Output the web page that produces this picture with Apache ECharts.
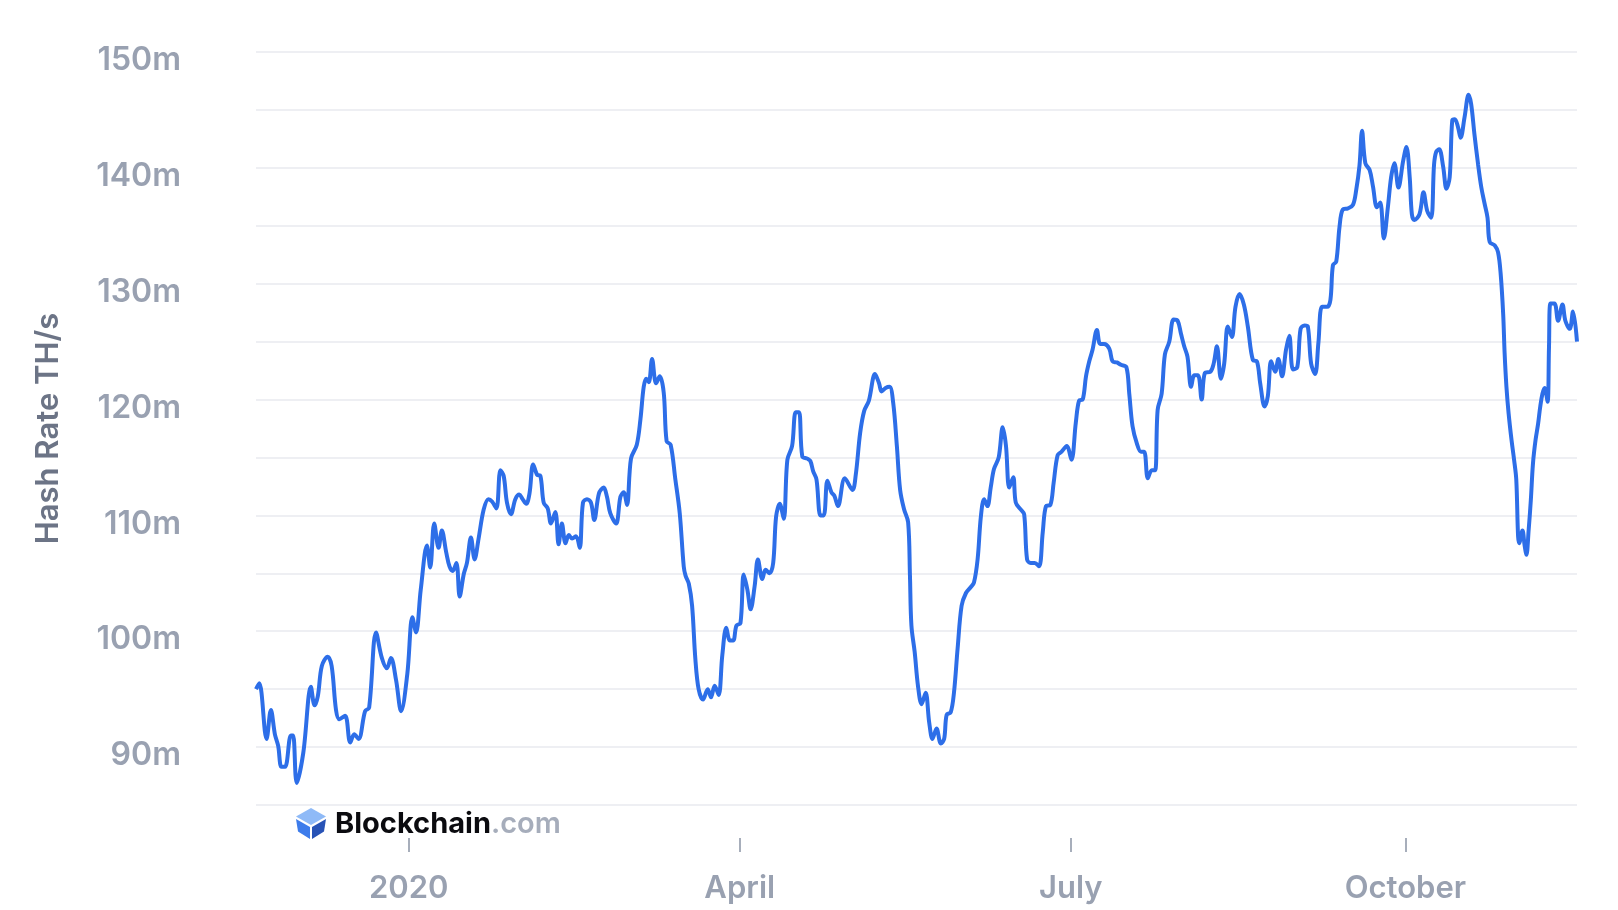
<!DOCTYPE html>
<html><head><meta charset="utf-8">
<script src="https://cdn.jsdelivr.net/npm/echarts@6/dist/echarts.min.js"></script>
<style>html,body{margin:0;padding:0;background:#fff}#c{width:1618px;height:910px}</style>
</head><body><div id="c"></div>
<script>
// days since 2020-01-01
const dayOffsets = [
-42.0,-41.1,-39.1,-37.9,-36.8,-35.9,-35.0,-34.0,-32.4,-31.8,-30.8,-29.0,-26.9,-25.9,-25.0,-23.9,-22.3,-21.2,-20.0,-19.1,
-17.5,-16.1,-15.0,-13.8,-12.0,-10.9,-9.0,-7.4,-6.0,-4.9,-3.5,-2.1,-0.4,1.0,2.0,3.3,5.0,5.9,7.0,8.2,
9.1,10.3,11.2,12.1,13.1,14.0,15.1,16.0,17.1,18.1,19.2,20.6,21.9,22.9,24.1,25.2,26.1,27.0,28.1,29.3,
30.4,31.3,32.3,33.2,34.2,35.3,36.2,37.1,38.2,39.1,40.3,41.2,42.1,43.1,44.0,44.9,46.0,47.0,47.9,49.0,
50.1,51.0,52.3,53.6,54.5,55.4,57.0,58.2,59.1,60.0,61.1,62.7,63.7,64.6,65.3,66.0,66.9,68.0,69.0,70.1,
70.9,72.0,73.3,74.5,75.6,76.1,77.0,77.9,78.8,79.7,80.9,82.2,83.1,84.1,85.2,86.2,87.3,88.3,89.2,90.1,
91.2,92.1,93.1,94.0,95.1,96.0,97.2,98.1,99.2,100.2,101.0,102.0,103.1,104.1,105.4,106.4,107.3,108.2,109.6,110.4,
111.2,112.1,113.2,114.1,115.1,116.2,117.0,118.0,119.9,122.0,122.9,124.1,125.2,126.5,128.2,129.3,130.0,131.1,132.2,133.2,
134.2,135.1,136.2,137.3,137.8,138.2,139.1,140.0,141.0,142.1,143.1,144.0,145.1,146.3,147.2,147.9,149.0,149.9,150.9,152.0,
153.2,154.5,155.4,156.4,157.3,158.2,159.1,160.0,160.9,162.2,163.3,164.2,165.1,166.2,166.9,168.3,169.2,170.0,171.0,172.1,
173.3,174.3,175.2,176.4,177.3,178.4,179.5,180.9,182.2,183.4,184.3,185.3,186.2,187.1,188.0,189.2,190.1,191.2,192.6,193.5,
194.7,195.8,197.3,198.1,199.0,200.2,201.3,202.2,203.2,204.3,205.2,205.9,207.0,207.9,209.1,210.3,211.4,212.3,213.2,214.1,
215.1,216.0,217.0,218.0,218.9,220.4,221.3,222.2,223.3,224.2,225.2,226.3,227.3,228.4,229.6,230.7,232.1,233.2,234.1,235.3,
236.2,237.1,238.2,239.1,240.1,241.2,242.1,243.1,244.3,245.2,246.3,247.2,248.1,249.2,250.1,251.1,252.5,253.4,254.1,255.0,
255.9,256.8,258.2,259.6,260.5,261.4,262.1,263.0,264.2,265.1,266.2,267.1,268.1,269.2,270.1,271.0,272.1,273.4,274.3,275.2,
275.8,276.5,277.9,279.0,280.0,281.1,281.9,282.5,283.3,284.4,285.3,286.2,286.9,287.6,288.5,289.2,290.3,291.4,292.1,293.0,
294.0,294.9,295.8,296.6,297.2,298.6,299.5,300.2,300.9,301.3,301.8,302.4,303.2,303.9,304.5,305.0,305.3,306.2,306.8,307.3,
307.9,308.5,309.1,309.8,310.5,311.1,311.7,312.3,313.1,313.5,313.9,315.0,316.0,317.2,318.0,319.2,320.1,321.2
];
// hash rate, millions of TH/s
const hashRate = [
95.0,95.5,90.7,93.2,91.1,90.1,88.3,88.3,91.0,91.0,86.9,89.5,95.2,93.6,94.4,97.0,97.8,97.0,93.2,92.4,
92.7,90.4,91.1,90.7,93.1,93.4,99.9,97.7,96.8,97.7,95.8,93.1,96.3,101.2,99.9,103.6,107.4,105.5,109.3,107.2,
108.7,106.8,105.6,105.2,105.9,103.0,104.9,105.9,108.1,106.2,108.0,110.5,111.4,111.2,110.6,113.9,113.4,111.1,110.1,111.4,
111.8,111.4,111.0,111.9,114.4,113.5,113.4,111.1,110.6,109.3,110.3,107.5,109.3,107.6,108.3,108.0,108.2,107.2,111.1,111.4,
111.1,109.6,111.9,112.4,111.6,110.2,109.3,111.6,112.0,110.9,114.9,116.1,118.3,121.1,121.8,121.5,123.5,121.4,122.0,120.6,
116.4,116.1,113.1,110.2,105.6,104.8,104.1,102.2,97.6,95.0,94.1,95.0,94.3,95.3,94.5,97.9,100.3,99.2,99.2,100.5,
100.7,104.9,103.6,101.9,103.9,106.2,104.5,105.3,105.0,105.9,109.9,111.0,109.7,114.8,116.0,118.9,118.9,115.1,114.9,114.7,
113.8,113.1,110.0,110.0,113.0,112.0,111.7,110.8,113.2,112.2,113.5,117.1,119.0,119.9,122.2,121.4,120.7,121.0,121.1,119.7,
116.0,112.2,110.5,109.4,104.8,100.5,98.2,95.3,93.7,94.7,92.1,90.7,91.6,90.3,90.7,92.8,93.0,94.7,98.5,102.2,
103.3,103.8,104.2,106.2,109.9,111.4,110.8,112.4,114.0,115.0,117.6,116.0,112.4,113.3,111.1,110.5,110.1,106.2,105.9,105.9,
105.6,108.5,110.8,110.9,112.8,115.2,115.5,116.0,114.8,118.0,119.9,120.0,122.0,123.3,124.3,126.0,124.8,124.8,124.4,123.3,
123.2,123.0,122.8,120.5,117.7,116.2,115.5,115.5,113.2,113.9,113.9,119.1,120.5,123.9,125.0,126.9,126.8,125.7,124.6,123.7,
121.1,122.1,122.1,120.0,122.3,122.4,123.1,124.6,121.8,123.1,126.3,125.4,128.0,129.1,128.2,126.3,123.4,123.3,121.4,119.4,
120.3,123.3,122.4,123.5,122.0,124.3,125.5,122.6,122.8,126.1,126.4,126.3,123.1,122.2,124.9,128.0,128.0,128.6,131.6,131.9,
134.9,136.4,136.5,136.8,138.1,140.2,143.2,140.4,139.8,138.4,136.6,137.0,133.9,136.6,139.2,140.4,138.3,140.6,141.8,139.2,
136.0,135.5,136.0,137.9,136.3,135.7,140.3,141.4,141.6,140.1,138.2,139.2,144.1,144.2,143.5,142.6,144.4,146.3,145.5,142.9,
140.3,138.3,136.9,135.7,133.6,133.3,132.7,130.9,127.4,124.0,121.1,118.8,116.5,114.8,113.1,108.2,107.6,108.7,107.4,106.6,
108.7,111.3,114.5,116.5,117.9,119.4,120.5,121.0,119.8,124.5,128.3,128.3,126.8,128.2,126.8,126.1,127.6,125.0
];
// quarter starts, as days since 2020-01-01, and their labels
const tickDays = [0, 91, 182, 274];
const tickLabels = ['2020', 'April', 'July', 'October'];
const yMin = 85, yMax = 150, yStep = 5;

const seriesData = dayOffsets.map((d, i) => [d, hashRate[i]]);

const chart = echarts.init(document.getElementById('c'), null, {renderer: 'canvas'});
const FONT = 'Inter, "Noto Sans", sans-serif';
chart.setOption({
  animation: false,
  backgroundColor: '#ffffff',
  grid: {left: 256, right: 41, top: 52, bottom: 105},
  xAxis: {
    type: 'value',
    min: dayOffsets[0],
    max: dayOffsets[dayOffsets.length - 1],
    offset: 33,
    axisLine: {show: false},
    splitLine: {show: false},
    axisTick: {show: true, customValues: tickDays, length: 14, lineStyle: {color: '#a7aebb', width: 2}},
    axisLabel: {
      customValues: tickDays,
      margin: 35,
      color: '#99a1b1',
      fontFamily: FONT,
      fontWeight: 600,
      fontSize: 31,
      formatter: v => { const i = tickDays.indexOf(v); return i >= 0 ? tickLabels[i] : ''; }
    }
  },
  yAxis: {
    type: 'value',
    min: yMin, max: yMax, interval: yStep,
    name: 'Hash Rate TH/s',
    nameLocation: 'middle',
    nameRotate: 90,
    nameGap: 192,
    nameTextStyle: {color: '#6c7486', fontFamily: FONT, fontWeight: 600, fontSize: 31},
    axisLine: {show: false},
    axisTick: {show: false},
    splitLine: {show: true, lineStyle: {color: '#eeeff3', width: 2}},
    axisLabel: {
      margin: 75,
      verticalAlign: 'top',
      lineHeight: 17,
      color: '#99a1b1',
      fontFamily: FONT,
      fontWeight: 600,
      fontSize: 32,
      formatter: v => (v % 10 === 0 ? v + 'm' : '')
    }
  },
  series: [{
    type: 'line',
    data: seriesData,
    smooth: 0.35,
    showSymbol: false,
    lineStyle: {color: '#2d6ee8', width: 4},
    itemStyle: {color: '#2d6ee8'}
  }],
  graphic: [{
    type: 'group',
    left: 296, top: 808,
    children: [
      {type: 'polygon', shape: {points: [[16,0],[31,8.5],[16,17],[1,8.5]]}, style: {fill: '#8fbaf7'}},
      {type: 'polygon', shape: {points: [[1,11],[15,19],[15,31],[3,23.5]]}, style: {fill: '#3d7ceb'}},
      {type: 'polygon', shape: {points: [[17,19],[31,11],[29,23.5],[17,31]]}, style: {fill: '#2853b6'}},
      {type: 'text', x: 40, y: 16, style: {
        text: '{b|Blockchain}{c|.com}',
        verticalAlign: 'middle',
        rich: {
          b: {fontFamily: FONT, fontWeight: 700, fontSize: 29, fill: '#0b0b0f'},
          c: {fontFamily: FONT, fontWeight: 600, fontSize: 29, fill: '#a6adbb'}
        }
      }}
    ]
  }]
});
</script>
</body></html>
